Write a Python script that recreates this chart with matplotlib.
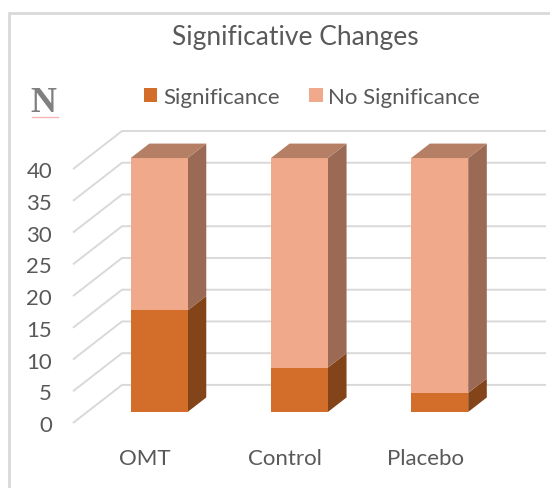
import matplotlib.pyplot as plt
from matplotlib.patches import Polygon, Rectangle
from matplotlib.lines import Line2D

# data
categories = ['OMT', 'Control', 'Placebo']
significance = [16, 7, 3]
no_significance = [24, 33, 37]
y_ticks = [0, 5, 10, 15, 20, 25, 30, 35, 40]

# colours (front, side, top)
sig_cols = ('#d26e2a', '#844419', '#a85a26')
nosig_cols = ('#f0a98a', '#9a6a55', '#b57f66')
grid_col = '#d9d9d9'
text_col = '#595959'

W, H = 550, 489
fig = plt.figure(figsize=(W / 100, H / 100), dpi=100)

# figure border (only top/left visible in reference)
fig.patches.append(Rectangle((9 / W, -0.1), 1.2, (H - 14) / H + 0.1,
                             transform=fig.transFigure, fill=False,
                             edgecolor=grid_col, lw=2))

# axes: front plane x=-0.513..2.859 ; y=0 at px 424, top (back 40) px 132
ax = fig.add_axes([73 / W, (H - 424) / H, (546 - 73) / W, (424 - 132) / H])
ax.set_xlim(-0.513, 2.859)
ax.set_ylim(0, 46)
for s in ax.spines.values():
    s.set_visible(False)

DX = 49 / 140.25   # full depth offset in x data units
DY = 6.0           # full depth offset in y data units
d0, d1 = 0.29, 0.67
bw = 0.406

# back wall gridlines and side diagonals
x_left = -0.513
for v in y_ticks:
    ax.plot([x_left, x_left + DX, 2.859], [v, v + DY, v + DY],
            color=grid_col, lw=1.4, zorder=1, clip_on=False, solid_capstyle='butt')


def seg(i, bottom, height, cols, top_face):
    x0 = i - bw / 2 + d0 * DX
    x1 = i + bw / 2 + d0 * DX
    y0 = bottom + d0 * DY
    y1 = bottom + height + d0 * DY
    ddx = (d1 - d0) * DX
    ddy = (d1 - d0) * DY
    ax.add_patch(Polygon([(x1, y0), (x1 + ddx, y0 + ddy), (x1 + ddx, y1 + ddy), (x1, y1)],
                         closed=True, facecolor=cols[1], edgecolor='none', zorder=3, clip_on=False))
    ax.add_patch(Rectangle((x0, y0), x1 - x0, y1 - y0, facecolor=cols[0],
                           edgecolor='none', zorder=4, clip_on=False))
    if top_face:
        ax.add_patch(Polygon([(x0, y1), (x0 + ddx, y1 + ddy), (x1 + ddx, y1 + ddy), (x1, y1)],
                             closed=True, facecolor=cols[2], edgecolor='none', zorder=4, clip_on=False))


for i in range(len(categories)):
    seg(i, 0, significance[i], sig_cols, False)
    seg(i, significance[i], no_significance[i], nosig_cols, True)

font = 'Lato'
ax.set_yticks(y_ticks)
ax.set_yticklabels([str(v) for v in y_ticks], fontsize=16, color=text_col, family=font)
ax.set_xticks(range(len(categories)))
ax.set_xticklabels(categories, fontsize=16, color=text_col, family=font)
ax.tick_params(axis='y', length=0, pad=15)
ax.tick_params(axis='x', length=0, pad=18)

fig.text(295 / W, 1 - 38 / H, 'Significative Changes', ha='center', va='center',
         fontsize=19, color=text_col, family=font)

# "N" label
fig.text(43 / W, 1 - 104 / H, 'N', ha='center', va='center', fontsize=26,
         color='#808080', family='Liberation Serif', fontweight='bold')
fig.lines.append(Line2D([32 / W, 58 / W], [1 - 118 / H, 1 - 118 / H],
                        transform=fig.transFigure, color='#f4b6b6', lw=1))

handles = [Rectangle((0, 0), 1, 1, facecolor=sig_cols[0]),
           Rectangle((0, 0), 1, 1, facecolor=nosig_cols[0])]
fig.legend(handles, ['Significance', 'No Significance'], loc='center',
           bbox_to_anchor=(312 / W, 1 - 98 / H), ncol=2, frameon=False,
           handlelength=0.6, handleheight=0.6, handletextpad=0.25, columnspacing=1.35,
           prop={'family': font, 'size': 16}, labelcolor=text_col)

fig.savefig('out.png', dpi=100)
